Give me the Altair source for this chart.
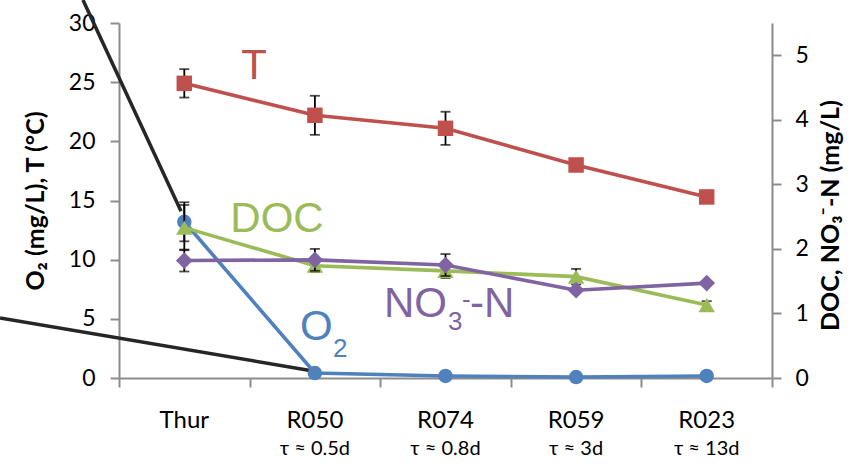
import altair as alt
import pandas as pd

# ---- data ----
cats = ["Thur", "R050", "R074", "R059", "R023"]
tau = ["", "τ ≈ 0.5d", "τ ≈ 0.8d", "τ ≈ 3d", "τ ≈ 13d"]

T_vals = [24.9, 22.2, 21.1, 18.0, 15.3]
T_err = [1.2, 1.65, 1.4, 0.0, 0.0]
O2_vals = [13.2, 0.42, 0.17, 0.08, 0.17]
O2_err = [1.65, 0.0, 0.0, 0.0, 0.0]
DOC_vals = [2.33, 1.74, 1.66, 1.57, 1.13]
DOC_err = [0.35, 0.10, 0.11, 0.12, 0.06]
NO3_vals = [1.82, 1.83, 1.75, 1.36, 1.47]
NO3_err = [0.17, 0.17, 0.17, 0.0, 0.0]

# annotation pointer lines (x in category-index units, y in left-axis units)
ptrA_x = [-0.276, 0.475]
ptrA_y = [31.95, 14.1]
ptrB_x = [-0.911, 1.486]
ptrB_y = [5.07, 0.6]

RED, BLUE, GREEN, PURPLE = "#C0504D", "#4F81BD", "#9BBB59", "#8064A2"
AXC = "#8C8C8C"
W, H = 653, 355

pos = [i + 0.5 for i in range(len(cats))]


def sdf(vals, errs):
    return pd.DataFrame({
        "x": pos, "cat": cats, "v": vals,
        "lo": [v - e for v, e in zip(vals, errs)],
        "hi": [v + e for v, e in zip(vals, errs)],
        "e": errs,
    })


xs = alt.Scale(domain=[0, 5], nice=False, zero=False)
X = alt.X("x:Q", scale=xs, title=None,
          axis=alt.Axis(values=[0, 1, 2, 3, 4, 5], labels=False, grid=False,
                        domainColor=AXC, tickColor=AXC, domainWidth=2,
                        tickWidth=2, tickSize=9))

YL_scale = alt.Scale(domain=[0, 30], nice=False, zero=True)
YR_scale = alt.Scale(domain=[0, 5.5], nice=False, zero=True)

left_axis = alt.Axis(values=[0, 5, 10, 15, 20, 25, 30], grid=False, orient="left",
                     title="O₂ (mg/L), T (°C)", titleFont="Lato", titleFontSize=25,
                     titleFontWeight="bold", titleColor="black", titlePadding=20,
                     labelFont="Lato", labelFontSize=23, labelColor="black",
                     labelPadding=15, domainColor=AXC, tickColor=AXC,
                     domainWidth=2, tickWidth=2, tickSize=9)
right_axis = alt.Axis(values=[0, 1, 2, 3, 4, 5], grid=False, orient="right",
                      title="DOC, NO₃⁻-N (mg/L)", titleFont="Lato", titleFontSize=25,
                      titleFontWeight="bold", titleColor="black", titlePadding=10,
                      titleAngle=270, titleBaseline="top", titleY=192,
                      labelFont="Lato", labelFontSize=23, labelColor="black",
                      labelPadding=14, domainColor=AXC, tickColor=AXC,
                      domainWidth=2, tickWidth=2, tickSize=9)


def YL(field="v"):
    return alt.Y(f"{field}:Q", scale=YL_scale, axis=left_axis)


def YR(field="v"):
    return alt.Y(f"{field}:Q", scale=YR_scale, axis=right_axis)


def series_layers(df, color, shape, size, Yf):
    err = df[df["e"] > 0]
    rule = alt.Chart(err).mark_rule(color="black", strokeWidth=1.8).encode(
        x=X, y=Yf("lo"), y2="hi")
    cap_lo = alt.Chart(err).mark_tick(color="black", orient="horizontal",
                                      size=10, thickness=1.8).encode(x=X, y=Yf("lo"))
    cap_hi = alt.Chart(err).mark_tick(color="black", orient="horizontal",
                                      size=10, thickness=1.8).encode(x=X, y=Yf("hi"))
    line = alt.Chart(df).mark_line(color=color, strokeWidth=3.6).encode(x=X, y=Yf("v"))
    pts = alt.Chart(df).mark_point(filled=True, opacity=1, shape=shape, size=size,
                                   color=color).encode(x=X, y=Yf("v"))
    return [rule, cap_lo, cap_hi, line, pts]


dT = sdf(T_vals, T_err)
dO = sdf(O2_vals, O2_err)
dD = sdf(DOC_vals, DOC_err)
dN = sdf(NO3_vals, NO3_err)

ptrA = pd.DataFrame({"x": ptrA_x, "v": ptrA_y})
ptrB = pd.DataFrame({"x": ptrB_x, "v": ptrB_y})
pA = alt.Chart(ptrA).mark_line(color="#262626", strokeWidth=3.5, clip=False).encode(x=X, y=YL())
pB = alt.Chart(ptrB).mark_line(color="#262626", strokeWidth=3.5, clip=False).encode(x=X, y=YL())

# category labels (two lines)
lab = pd.DataFrame({"x": pos, "cat": cats, "tau": tau})
cat1 = alt.Chart(lab).mark_text(font="Lato", fontSize=24, color="black",
                                baseline="alphabetic").encode(
    x=X, y=alt.value(405), text="cat:N")
cat2 = alt.Chart(lab).mark_text(font="Lato", fontSize=20, color="black",
                                baseline="alphabetic").encode(
    x=X, y=alt.value(432), text="tau:N")

# series name labels
lblT = pd.DataFrame({"x": [1.034], "v": [25.27], "t": ["T"]})
lblO = pd.DataFrame({"x": [1.386], "v": [3.21], "t": ["O"]})
lblDOC = pd.DataFrame({"x": [1.21], "v": [2.262], "t": ["DOC"]})
lblN = pd.DataFrame({"x": [2.029], "v": [0.945], "t": ["NO"]})

big = dict(font="Liberation Sans", fontSize=42, baseline="alphabetic")
small = dict(font="Liberation Sans", fontSize=26, baseline="alphabetic")

tT = alt.Chart(lblT).mark_text(color=RED, align="center", **big).encode(x=X, y=YL(), text="t:N")
tO = alt.Chart(lblO).mark_text(color=BLUE, align="left", **big).encode(x=X, y=YL(), text="t:N")
tO2 = alt.Chart(lblO).mark_text(color=BLUE, align="left", dx=33, dy=17, **small).encode(
    x=X, y=YL(), text=alt.value("2"))
tD = alt.Chart(lblDOC).mark_text(color=GREEN, align="center", **big).encode(x=X, y=YR(), text="t:N")
tN1 = alt.Chart(lblN).mark_text(color=PURPLE, align="left", **big).encode(x=X, y=YR(), text="t:N")
tN2 = alt.Chart(lblN).mark_text(color=PURPLE, align="left", dx=64, dy=13, **small).encode(
    x=X, y=YR(), text=alt.value("3"))
tN3 = alt.Chart(lblN).mark_text(color=PURPLE, align="left", dx=78, dy=-9, **small).encode(
    x=X, y=YR(), text=alt.value("-"))
tN4 = alt.Chart(lblN).mark_text(color=PURPLE, align="left", dx=86, **big).encode(
    x=X, y=YR(), text=alt.value("-N"))

left = alt.layer(pA, pB,
                 *series_layers(dT, RED, "square", 240, YL),
                 *series_layers(dO, BLUE, "circle", 210, YL),
                 tT, tO, tO2, cat1, cat2)
right = alt.layer(*series_layers(dD, GREEN, "triangle-up", 270, YR),
                  *series_layers(dN, PURPLE, "diamond", 280, YR),
                  tD, tN1, tN2, tN3, tN4)

chart = alt.layer(left, right).resolve_scale(y="independent").properties(
    width=W, height=H,
    padding={"left": 119, "top": 23, "right": 93, "bottom": 91},
    autosize=alt.AutoSizeParams(type="none"),
    background="white",
).configure_view(stroke=None)

chart.save("out.html", embed_options={"renderer": "svg", "actions": False})
